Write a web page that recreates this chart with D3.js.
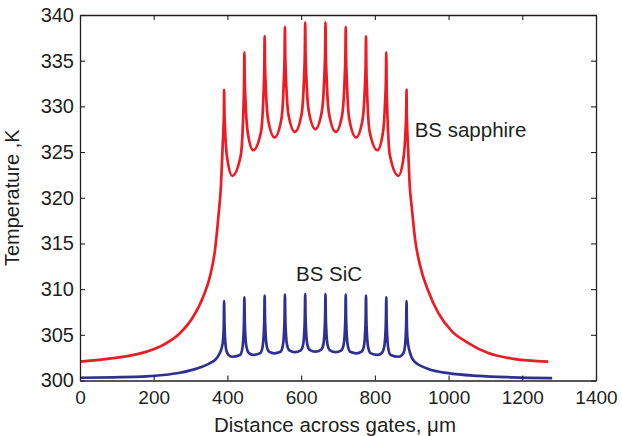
<!DOCTYPE html>
<html>
<head>
<meta charset="utf-8">
<script src="https://cdn.jsdelivr.net/npm/d3@7"></script>
<style>
  body { margin: 0; background: #fff; }
  text { font-family: "Liberation Sans", Arial, Helvetica, sans-serif; fill: #231f20; }
</style>
</head>
<body>
<svg id="chart" width="622" height="436"></svg>
<script>
// tick values
var xTicks = [0, 200, 400, 600, 800, 1000, 1200, 1400];
var yTicks = [300, 305, 310, 315, 320, 325, 330, 335, 340];

// BS sapphire, [distance um, temperature K]
var sapphire = [
  [0, 302.07], [90, 302.44], [181, 303.16], [226, 303.9], [271, 305.17], [307.5, 307.0],
  [334.6, 309.2], [352.7, 311.4], [366.3, 314.3], [375.4, 317.9], [382.5, 321.4],
  [387, 325.6], [389.5, 327.9], [390.5, 329.4], [391, 331.8],
  [392, 329.2], [393.5, 327.6], [396, 325.7], [401, 323.9], [413, 322.4], [436, 324.6], [441, 327.1], [443.5, 329.8], [445, 332.1], [446, 335.9],
  [447, 332.9], [448.5, 331.1], [451, 329.0], [456, 326.9], [470, 325.2], [491, 327.2], [496, 329.6], [498.5, 332.1], [500, 334.2], [501, 337.7],
  [502, 334.6], [503.5, 332.7], [506, 330.5], [511, 328.4], [528, 326.6], [546, 328.5], [551, 330.8], [553.5, 333.3], [555, 335.3], [556, 338.7],
  [557, 335.5], [558.5, 333.5], [561, 331.2], [566, 329.0], [583, 327.2], [601, 329.1], [606, 331.4], [608.5, 333.8], [610, 335.8], [611, 339.2],
  [612, 335.9], [613.5, 333.9], [616, 331.6], [621, 329.4], [638.5, 327.5], [656, 329.4], [661, 331.6], [663.5, 333.9], [665, 335.9], [666, 339.2],
  [667, 335.8], [668.5, 333.8], [671, 331.4], [676, 329.1], [694, 327.2], [711, 329.0], [716, 331.2], [718.5, 333.5], [720, 335.5], [721, 338.7],
  [722, 335.3], [723.5, 333.3], [726, 330.8], [731, 328.5], [749, 326.6], [766, 328.4], [771, 330.5], [773.5, 332.7], [775, 334.6], [776, 337.7],
  [777, 334.2], [778.5, 332.1], [781, 329.6], [786, 327.2], [807, 325.2], [821, 326.9], [826, 329.0], [828.5, 331.1], [830, 332.9], [831, 335.9],
  [832, 332.1], [833.5, 329.8], [836, 327.1], [841, 324.6], [864, 322.4], [876, 323.9], [881, 325.7], [883.5, 327.6], [885, 329.2], [886, 331.8],
  [886.5, 329.4], [887.5, 327.9], [890, 325.6], [894.5, 321.4], [900, 319.0], [909, 315.5],
  [922.5, 312.6], [945, 309.8], [972, 307.4], [1008.5, 305.4], [1053.6, 304.1], [1107.8, 303.0],
  [1171, 302.4], [1270.6, 302.07]
];

// BS SiC
var sic = [
  [0, 300.3], [90, 300.35], [181, 300.45], [226, 300.6], [271, 300.85], [316.5, 301.3],
  [352.7, 301.9], [368, 302.3], [378, 302.9], [384, 303.5], [388, 304.4], [390, 305.8], [391, 308.7],
  [392, 306.3], [393.5, 304.7], [397, 303.3], [403, 302.8], [412, 302.6], [434, 302.8], [440, 303.4], [443.5, 304.9], [445, 306.5], [446, 309.1],
  [447, 306.6], [448.5, 305.0], [452, 303.6], [458, 303.0], [469, 302.8], [489, 303.0], [495, 303.6], [498.5, 305.1], [500, 306.7], [501, 309.3],
  [502, 306.8], [503.5, 305.2], [507, 303.7], [513, 303.15], [527, 302.97], [544, 303.15], [550, 303.75], [553.5, 305.2], [555, 306.8], [556, 309.4],
  [557, 306.9], [558.5, 305.3], [562, 303.85], [568, 303.3], [583, 303.1], [599, 303.3], [605, 303.85], [608.5, 305.3], [610, 306.9], [611, 309.45],
  [612, 306.9], [613.5, 305.35], [617, 303.9], [623, 303.35], [638.5, 303.15], [654, 303.35], [660, 303.9], [663.5, 305.35], [665, 306.9], [666, 309.45],
  [667, 306.9], [668.5, 305.3], [672, 303.85], [678, 303.3], [694, 303.1], [709, 303.3], [715, 303.85], [718.5, 305.3], [720, 306.9], [721, 309.4],
  [722, 306.8], [723.5, 305.2], [727, 303.75], [733, 303.15], [750, 302.97], [764, 303.15], [770, 303.7], [773.5, 305.2], [775, 306.8], [776, 309.3],
  [777, 306.7], [778.5, 305.1], [782, 303.6], [788, 303.0], [808, 302.8], [819, 303.0], [825, 303.6], [828.5, 305.0], [830, 306.6], [831, 309.1],
  [832, 306.5], [833.5, 304.9], [837, 303.4], [843, 302.8], [865, 302.6], [874, 302.8], [880, 303.3], [883.5, 304.7], [885, 306.3], [886, 308.7],
  [887, 305.8], [889, 304.4], [893, 303.4], [899, 302.6], [909, 302.0], [925, 301.6],
  [945, 301.25], [999, 300.8], [1080, 300.5], [1171, 300.35], [1281, 300.27]
];

var svg = d3.select("#chart"),
  margin = { top: 15, right: 26, bottom: 55.5, left: 80 },
  width = +svg.attr("width") - margin.left - margin.right,
  height = +svg.attr("height") - margin.top - margin.bottom,
  g = svg.append("g").attr("transform", "translate(" + margin.left + "," + margin.top + ")");

var x = d3.scaleLinear().domain([0, 1400]).range([0, width]);
var y = d3.scaleLinear().domain([300, 340]).range([height, 0]);

var line = d3.line()
  .x(function (d) { return x(d[0]); })
  .y(function (d) { return y(d[1]); })
  .curve(d3.curveMonotoneX);

g.append("path")
  .datum(sapphire)
  .attr("fill", "none")
  .attr("stroke", "#ed1c24")
  .attr("stroke-width", 2.7)
  .attr("stroke-linejoin", "round")
  .attr("d", line);

g.append("path")
  .datum(sic)
  .attr("fill", "none")
  .attr("stroke", "#2e3192")
  .attr("stroke-width", 2.7)
  .attr("stroke-linejoin", "round")
  .attr("d", line);

// axes, ticks inward on all four sides
function styleAxis(sel, size) {
  sel.select(".domain").attr("stroke", "#231f20").attr("stroke-width", 1.3);
  sel.selectAll(".tick line").attr("stroke", "#231f20").attr("stroke-width", 1.1);
  sel.selectAll("text").attr("fill", "#231f20").style("font-size", size + "px")
    .style("font-family", "'Liberation Sans', Arial, sans-serif");
}

g.append("g")
  .attr("transform", "translate(0," + height + ")")
  .call(d3.axisBottom(x).tickValues(xTicks).tickFormat(d3.format("d")).tickSizeInner(-5).tickSizeOuter(0).tickPadding(10))
  .call(styleAxis, 19);

g.append("g")
  .call(d3.axisTop(x).tickValues(xTicks).tickSizeInner(-5).tickSizeOuter(0).tickFormat(""))
  .call(styleAxis, 19);

g.append("g")
  .call(d3.axisLeft(y).tickValues(yTicks).tickFormat(d3.format("d")).tickSizeInner(-5).tickSizeOuter(0).tickPadding(6))
  .call(styleAxis, 20);

g.append("g")
  .attr("transform", "translate(" + width + ",0)")
  .call(d3.axisRight(y).tickValues(yTicks).tickSizeInner(-5).tickSizeOuter(0).tickFormat(""))
  .call(styleAxis, 20);

// axis titles
g.append("text")
  .attr("x", width / 2 - 3)
  .attr("y", height + 51)
  .attr("text-anchor", "middle")
  .style("font-size", "20.5px")
  .text("Distance across gates, \u03bcm");

g.append("text")
  .attr("transform", "rotate(-90)")
  .attr("x", -height / 2)
  .attr("y", -61)
  .attr("text-anchor", "middle")
  .style("font-size", "20px")
  .text("Temperature ,K");

// series labels
g.append("text")
  .attr("x", x(908))
  .attr("y", y(326.6))
  .style("font-size", "20.5px")
  .text("BS sapphire");

g.append("text")
  .attr("x", x(586))
  .attr("y", y(310.85))
  .style("font-size", "20.5px")
  .text("BS SiC");
</script>
</body>
</html>
